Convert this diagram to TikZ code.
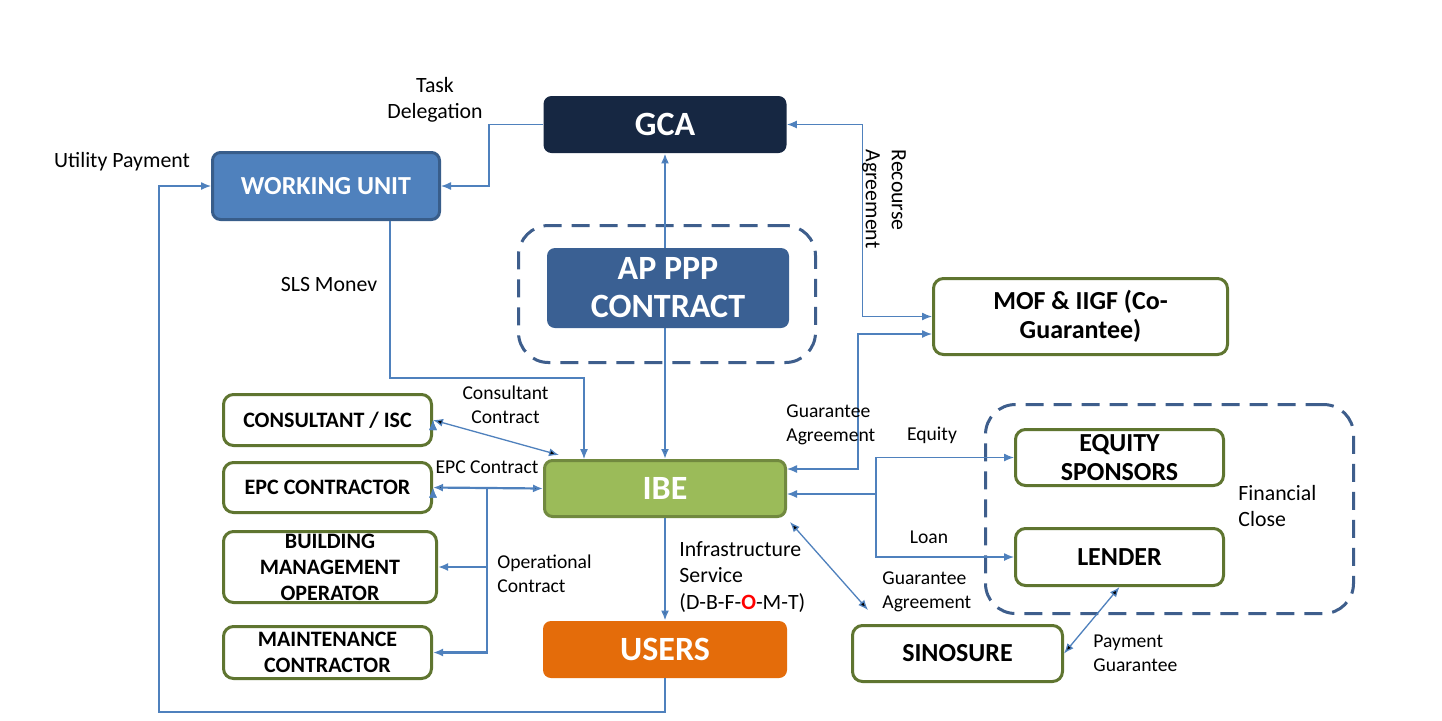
\documentclass[tikz,border=0pt]{standalone}
\usepackage{fontspec}
\setmainfont{Carlito}
\usetikzlibrary{arrows.meta,calc}

\definecolor{gcanavy}{RGB}{22,39,66}
\definecolor{wublue}{RGB}{79,129,189}
\definecolor{wuedge}{RGB}{56,93,138}
\definecolor{apblue}{RGB}{58,96,147}
\definecolor{ibegreen}{RGB}{155,187,89}
\definecolor{ibeedge}{RGB}{113,137,63}
\definecolor{usersorange}{RGB}{228,108,10}
\definecolor{boxgreen}{RGB}{95,117,48}
\definecolor{groupblue}{RGB}{62,94,140}
\definecolor{lineblue}{RGB}{79,129,189}

\begin{document}
\begin{tikzpicture}[x=0.5pt,y=-0.5pt,>={Latex[length=5pt,width=4pt]},
    solid box/.style={rounded corners=4pt,text=white,align=center,inner sep=0pt,
                      font=\bfseries\fontsize{17}{19}\selectfont},
    green box/.style={draw=boxgreen,line width=1.5pt,rounded corners=5pt,fill=white,
                      align=center,inner sep=0pt,font=\bfseries\fontsize{13}{14.5}\selectfont},
    small green/.style={green box,font=\bfseries\fontsize{11}{13}\selectfont},
    group/.style={draw=groupblue,line width=1.5pt,dash pattern=on 9pt off 5pt,rounded corners=15pt},
    lbl/.style={font=\fontsize{10.9}{13}\selectfont,align=center,inner sep=0pt},
    small lbl/.style={lbl,font=\fontsize{9.8}{11.8}\selectfont},
    conn/.style={draw=lineblue,line width=0.65pt},
    bold conn/.style={draw=lineblue,line width=1.1pt}]

  \fill[white] (0,0) rectangle (1442,720);
  \useasboundingbox (0,0) rectangle (1442,720);

  % dashed groups
  \node[group,minimum width=148.5pt,minimum height=68.5pt] (apgroup) at (667,294) {};
  \node[group,minimum width=184pt,minimum height=104.5pt] (close) at (1169.5,509) {};

  % main column
  \node[solid box,fill=gcanavy,minimum width=121.5pt,minimum height=28.5pt] (gca) at (665,124.5) {GCA};
  \node[solid box,fill=wublue,draw=wuedge,line width=1.5pt,minimum width=113.5pt,minimum height=33.5pt,
        font=\bfseries\fontsize{13}{16}\selectfont] (wu) at (326,186) {WORKING UNIT};
  \node[solid box,fill=ibegreen,draw=ibeedge,line width=1.5pt,minimum width=120.5pt,minimum height=28pt] (ibe) at (665,488.5) {IBE};
  \node[solid box,fill=usersorange,minimum width=122pt,minimum height=28.5pt] (users) at (665,649.5) {USERS};

  % GCA <-> IBE runs behind the contract box
  \path[bold conn,<->] (gca) edge (ibe);
  \node[solid box,fill=apblue,minimum width=121pt,minimum height=40pt] (ap) at (668,288) {AP PPP\\CONTRACT};

  % left column
  \node[small green,minimum width=104pt,minimum height=25.5pt] (cons) at (327.5,420) {CONSULTANT / ISC};
  \node[small green,minimum width=104pt,minimum height=25pt] (epc) at (327.5,487.5) {EPC CONTRACTOR};
  \node[small green,minimum width=106.5pt,minimum height=35.5pt] (bmo) at (330,567) {BUILDING\\MANAGEMENT\\OPERATOR};
  \node[small green,minimum width=104pt,minimum height=26pt] (maint) at (327.5,652.5) {MAINTENANCE\\CONTRACTOR};

  % right side
  \node[green box,minimum width=147pt,minimum height=38pt] (mof) at (1080.5,316.5) {MOF \& IIGF (Co-\\Guarantee)};
  \node[green box,minimum width=104pt,minimum height=28pt] (equity) at (1119.5,457.5) {EQUITY\\SPONSORS};
  \node[green box,minimum width=104pt,minimum height=28.5pt] (lender) at (1119.5,557) {LENDER};
  \node[green box,minimum width=105pt,minimum height=28pt] (sino) at (957.5,653.5) {SINOSURE};

  % connectors
  \coordinate (ucorner) at (159,712);
  \coordinate (ops) at (487,487.5);
  \coordinate (fin) at (876,494);

  \draw[conn,->] (gca.west) -- ++(-54,0) |- (wu.east);
  \draw[conn,->] (users.south) |- (ucorner) |- (wu.west);
  \draw[conn,->] ($(wu.south)+(64,0)$) |- ($(ibe.north)+(-81,-81)$) -- ($(ibe.north)+(-81,0)$);
  \draw[conn,<->] (gca.east) -- ++(75.5,0) |- (mof.west);
  \draw[conn,<->] ($(ibe.east)+(0,-19.5)$) -| (858,334) -- ($(mof.west)+(0,17.5)$);
  \draw[conn,->] (fin) -- ($(ibe.east)+(0,5.5)$);
  \draw[conn,->] (fin) |- (equity.west);
  \draw[conn,->] (fin) |- (lender.west);
  \path[conn,<->] ($(ibe.south east)+(3,4)$) edge ($(sino.north west)+(17,-14)$)
                  (lender.south) edge (sino.east)
                  (cons.east) edge ($(ibe.north west)+(16,-4)$);
  \path[bold conn,<->] (epc.east) edge (ibe.west);
  \draw[bold conn,->] (ops) |- (bmo.east);
  \draw[bold conn,->] (ops) |- (maint.east);
  \path[bold conn,->] (ibe) edge (users);

  % labels
  \node[lbl] (ltask) at (435,100) {Task\\Delegation};
  \node[lbl] (lutil) at (122,162) {Utility Payment};
  \node[lbl] (lsls) at (329,284) {SLS Monev};
  \node[small lbl] (lcons) at (505.5,405) {Consultant\\Contract};
  \node[small lbl] (lepc) at (487,467) {EPC Contract};
  \node[small lbl,align=left,anchor=west] (lops) at (497,574) {Operational\\Contract};
  \node[lbl,align=left,anchor=west,font=\fontsize{10.9}{13.3}\selectfont] (linfra) at (679,577)
       {Infrastructure\\Service\\(D-B-F-\textcolor{red}{\textbf{O}}-M-T)};
  \node[lbl,rotate=-90,align=left] (lrec) at (884,199) {Recourse\\Agreement};
  \node[small lbl,align=left,anchor=west] (lguar) at (786,425) {Guarantee\\Agreement};
  \node[small lbl] (lequity) at (932,435) {Equity};
  \node[small lbl] (lloan) at (929,537) {Loan};
  \node[small lbl,align=left,anchor=west] (lsino) at (882,592) {Guarantee\\Agreement};
  \node[lbl,align=left,anchor=west] (lclose) at (1238,506) {Financial\\Close};
  \node[small lbl,align=left,anchor=west] (lpay) at (1093,653) {Payment\\Guarantee};
\end{tikzpicture}
\end{document}
